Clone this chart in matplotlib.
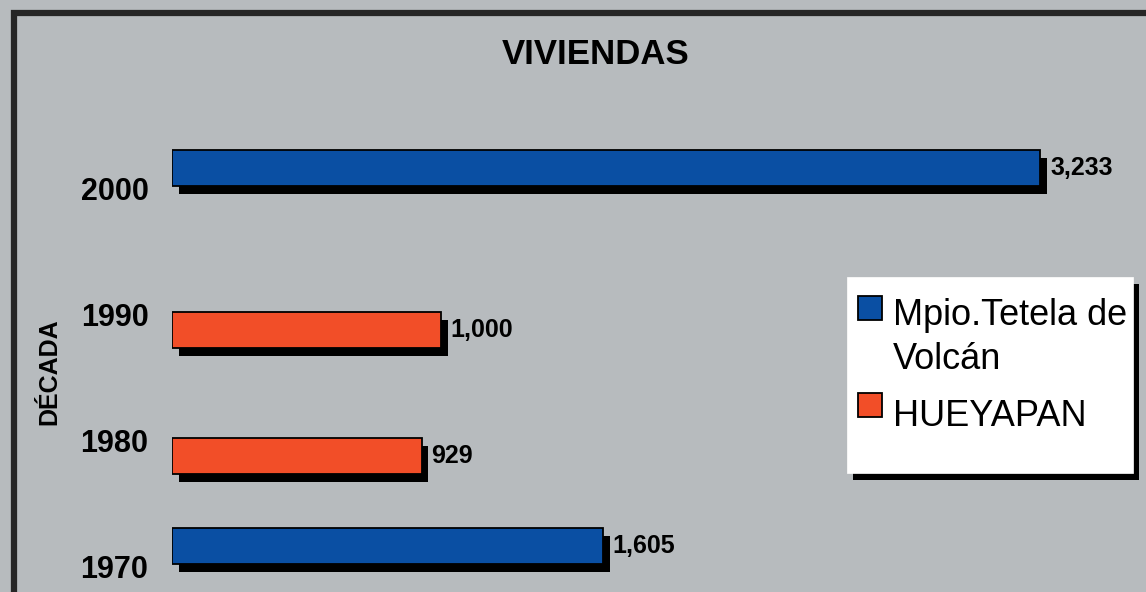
import numpy as np
import matplotlib.pyplot as plt
import matplotlib.patheffects as pe
from matplotlib.lines import Line2D
from matplotlib.patches import Rectangle
from matplotlib.legend_handler import HandlerLine2D

# Data
decades = ['1970', '1980', '1990', '2000']
tetela = [1605, np.nan, np.nan, 3233]
hueyapan = [np.nan, 929, 1000, np.nan]
series_names = ['Mpio.Tetela de\nVolcán', 'HUEYAPAN']

BG = '#b7bbbe'
BLUE = '#0a4fa3'
ORANGE = '#f24e28'
FONT = 'Liberation Sans'

BAR_H = 0.285
SHIFT = 0.022
W, H = 1146, 592


class TopLineHandler(HandlerLine2D):
    """Raises the legend marker so it sits beside the first line of its label."""

    def __init__(self, lift, **kw):
        super().__init__(**kw)
        self.lift = lift

    def create_artists(self, legend, orig_handle, xdescent, ydescent,
                       width, height, fontsize, trans):
        artists = super().create_artists(legend, orig_handle, xdescent, ydescent,
                                         width, height, fontsize, trans)
        for a in artists:
            a.set_ydata(np.asarray(a.get_ydata()) + self.lift * fontsize)
        return artists


fig = plt.figure(figsize=(W / 100, H / 100), dpi=100, facecolor=BG)
plt.rcParams['font.family'] = FONT

# outer frame (runs off the right and bottom edges)
fig.patches.append(Rectangle((14 / W, -0.1), 1.2, (H - 13) / H + 0.1,
                             transform=fig.transFigure, fill=False,
                             edgecolor='#262626', linewidth=4.5))

ax = fig.add_axes([172 / W, 0.0, (1139 - 172) / W, (H - 88) / H])
ax.patch.set_alpha(0)

pos = np.arange(len(decades))
shadow = [pe.SimplePatchShadow(offset=(5, -5.5), shadow_rgbFace='black', alpha=1.0),
          pe.Normal()]

b1 = ax.barh(pos + SHIFT + BAR_H / 2, tetela, height=BAR_H, color=BLUE,
             edgecolor='black', linewidth=1.3)
b2 = ax.barh(pos + SHIFT - BAR_H / 2, hueyapan, height=BAR_H, color=ORANGE,
             edgecolor='black', linewidth=1.3)
for bars in (b1, b2):
    for r in bars:
        r.set_path_effects(shadow)

# value labels
for bars, vals in ((b1, tetela), (b2, hueyapan)):
    for r, v in zip(bars, vals):
        if np.isnan(v):
            continue
        ax.annotate(f'{v:,.0f}', (v, r.get_y() + r.get_height() / 2),
                    xytext=(7, 0), textcoords='offset points',
                    ha='left', va='center', fontsize=18, fontweight='bold')

ax.set_xlim(0, 3600)
ax.set_ylim(-0.2, 3.8)
ax.set_yticks(pos)
ax.set_yticklabels(decades, fontsize=22, fontweight='bold')
ax.tick_params(axis='y', length=0, pad=17)
ax.set_xticks([])
for s in ax.spines.values():
    s.set_visible(False)

fig.text(49 / W, 1 - 372 / H, 'DÉCADA', rotation=90, ha='center',
         va='center', fontsize=18, fontweight='bold')
fig.text(596 / W, 1 - 55 / H, 'VIVIENDAS', ha='center', va='center',
         fontsize=25, fontweight='bold')

# legend box with drop shadow
box = Rectangle((847 / W, 1 - 473 / H), (1133 - 847) / W, (473 - 277) / H,
                transform=fig.transFigure, facecolor='white', edgecolor='white',
                linewidth=0.5)
box.set_path_effects([pe.SimplePatchShadow(offset=(4, -5), shadow_rgbFace='black',
                                           alpha=1.0), pe.Normal()])
fig.patches.append(box)

handles = [Line2D([], [], marker='s', ls='', markersize=17, markerfacecolor=c,
                  markeredgecolor='black', markeredgewidth=1.3)
           for c in (BLUE, ORANGE)]
leg = fig.legend(handles, series_names, loc='upper left',
                 bbox_to_anchor=(856.5 / W, 1 - 298 / H),
                 fontsize=26, frameon=False, handlelength=0.75,
                 handletextpad=0.26, borderpad=0, labelspacing=0.6,
                 borderaxespad=0,
                 handler_map={handles[0]: TopLineHandler(lift=0.83),
                              handles[1]: TopLineHandler(lift=0.22)})
for t in leg.get_texts():
    t.set_linespacing(1.33)

fig.savefig('out.png', dpi=100, facecolor=BG)
